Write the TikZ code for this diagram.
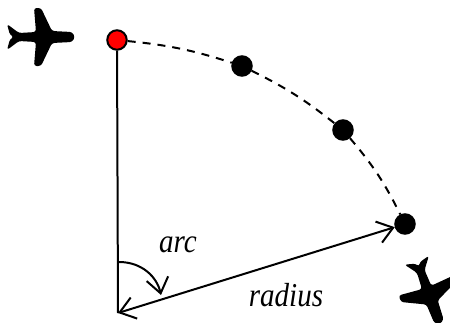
\documentclass[tikz,border=0pt]{standalone}
\usepackage{fontspec}
\usepackage{xcolor}
\setmainfont{Liberation Serif}
\newfontfamily\labelfont[FakeStretch=0.87]{Liberation Serif}
\definecolor{fixred}{RGB}{255, 0, 0}
\usetikzlibrary{arrows.meta, positioning}

\begin{document}
\begin{tikzpicture}[
    x=0.02cm, y=0.02cm,
    >={Straight Barb[length=0.3cm, width=0.44cm]},
    fix/.style={draw, circle, line width=0.04cm, minimum size=0.39cm, inner sep=0pt},
    line/.style={line width=0.04cm},
    route/.style={line width=0.04cm, dash pattern=on 0.16cm off 0.14cm},
    label/.style={anchor=base, font=\labelfont\fontsize{19}{21}\selectfont\itshape},
    plane/.pic={
        \fill[black, rounded corners=1.5pt]
            (32,0) -- (29,5) -- (9,6) -- (-2,29) -- (-9,29) -- (-7,5) -- (-24,4)
            -- (-36,13) -- (-33,2) -- (-29,0) -- (-33,-2) -- (-36,-13)
            -- (-24,-4) -- (-7,-5) -- (-9,-29) -- (-2,-29) -- (9,-6) -- (29,-5) -- cycle;
    }
]
\clip (0,0) rectangle (450,322);

% Aviones
\pic[rotate=0] at (43,285) {plane};
\pic[rotate=-70] at (429,28) {plane};

% Puntos de la trayectoria
\node[fix, fill=fixred] (start) at (117,282) {};
\node[fix, fill=black] (fixa) at (242,256) {};
\node[fix, fill=black] (fixb) at (343,192) {};
\node[fix, fill=black] (fixc) at (405,98) {};

% Centro del arco
\coordinate (apex) at (118,9);
\coordinate (arcstart) at (119,60);
\coordinate (arcend) at (161,27);

% Trayectoria
\draw[route] (start) to[bend left=6] (fixa);
\draw[route] (fixa) to[bend left=6] (fixb);
\draw[route] (fixb) to[bend left=7] (fixc);

% Radio y arco
\draw[line] (start) -- (apex);
\draw[line, <->] (apex) -- (fixc);
\draw[line, ->] (arcstart) .. controls (142,60) and (157,45) .. (arcend);

% Textos
\node[label] (arclabel) at (178,70) {arc};
\node[label] (radiuslabel) at (286,16) {radius};
\end{tikzpicture}
\end{document}
